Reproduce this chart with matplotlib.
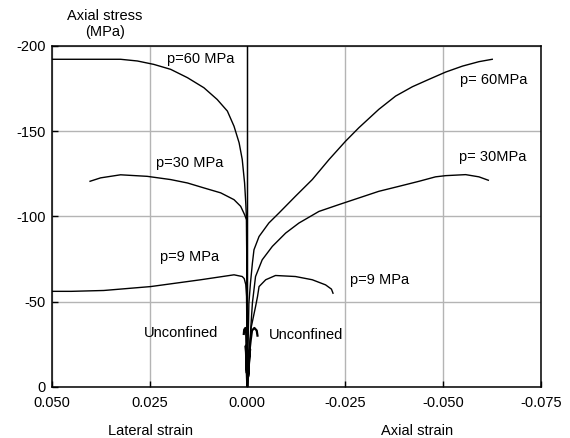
import numpy as np
import matplotlib
matplotlib.use('Agg')
from matplotlib import pyplot as plt

plt.rcParams['font.family'] = ['Liberation Sans', 'DejaVu Sans']

# lateral strain (positive, left half)
lat60_x = [0, 0.0001, 0.0002, 0.0004, 0.0007, 0.0013, 0.0021, 0.0034, 0.0051, 0.0077, 0.0111,
           0.0153, 0.0196, 0.0239, 0.0281, 0.0324, 0.052]
lat60_y = [0, -50, -98, -107.9, -119.6, -133.4, -143.2, -152.9, -161.8, -168.6, -175.5,
           -181.4, -186.3, -189.2, -191.2, -192.2, -192.2]

lat30_x = [0, 0.0001, 0.0002, 0.0007, 0.0017, 0.0034, 0.0068, 0.0111, 0.0153, 0.0196, 0.0256,
           0.0324, 0.0375, 0.0402]
lat30_y = [0, -55, -98, -101, -105.9, -109.8, -113.8, -116.7, -119.6, -121.6, -123.5,
           -124.4, -122.6, -120.6]

lat9_x = [0, 0.0001, 0.0002, 0.0004, 0.0008, 0.0013, 0.0034, 0.0119, 0.0247, 0.0367, 0.045, 0.052]
lat9_y = [0, -30, -53, -60, -63.5, -64.7, -65.7, -62.8, -58.8, -56.5, -56, -56]

# unconfined: loading up, then post-peak hook
lat0_x = [0, 0.0002, 0.0004, 0.0003, 0.0001, 0.0002, 0.0003, 0.0005, 0.0008, 0.0009]
lat0_y = [0, -12, -24, -20, -8, -20, -32, -34.5, -33.5, -31]

# axial strain (negative, right half)
ax60_x = [0, -0.0002, -0.0004, -0.0008, -0.0013, -0.0017, -0.0030, -0.0055, -0.0081, -0.0123,
          -0.0166, -0.0209, -0.0251, -0.0285, -0.0336, -0.0379, -0.0422, -0.0464, -0.0507,
          -0.0550, -0.0592, -0.0626]
ax60_y = [0, -25, -49, -60.8, -72.6, -80.4, -88.2, -96.1, -102, -111.8,
          -121.6, -133.4, -144.1, -152, -162.8, -170.6, -176.1, -180.4, -184.7,
          -188.2, -190.8, -192.2]

ax30_x = [0, -0.0005, -0.0009, -0.0013, -0.0021, -0.0038, -0.0064, -0.0098, -0.0132, -0.0183,
          -0.0234, -0.0285, -0.0336, -0.0387, -0.0439, -0.0481, -0.0507, -0.0558, -0.0592, -0.0616]
ax30_y = [0, -20, -35, -49.2, -64.7, -74.5, -82.4, -90.2, -96.1, -102.9,
          -106.9, -110.8, -114.7, -117.6, -120.6, -123.2, -123.9, -124.5, -123.2, -121.2]

ax9_x = [0, -0.0005, -0.0010, -0.0021, -0.0026, -0.0030, -0.0047, -0.0072, -0.0123, -0.0166,
         -0.0200, -0.0215, -0.0219]
ax9_y = [0, -20, -35, -47, -52.9, -58.8, -62.8, -65.3, -64.7, -62.8,
         -59.8, -57.3, -54.9]

ax0_x = [0, -0.0003, -0.0007, -0.0005, -0.0002, -0.0004, -0.0009, -0.0012, -0.0018, -0.0024, -0.0026]
ax0_y = [0, -10, -22, -18, -6, -18, -28, -33, -34.5, -33, -30]

xticks = [0.050, 0.025, 0.000, -0.025, -0.050, -0.075]
xticklabels = ['0.050', '0.025', '0.000', '-0.025', '-0.050', '-0.075']
yticks = [0, -50, -100, -150, -200]
yticklabels = ['0', '-50', '-100', '-150', '-200']

fig = plt.figure(figsize=(5.7, 4.38), dpi=100)
ax = fig.add_axes([0.0907, 0.117, 0.858, 0.778])

for xs, ys in [(lat60_x, lat60_y), (lat30_x, lat30_y), (lat9_x, lat9_y),
               (ax60_x, ax60_y), (ax30_x, ax30_y), (ax9_x, ax9_y)]:
    ax.plot(xs, ys, color='black', lw=1.0, zorder=3)
for xs, ys in [(lat0_x, lat0_y), (ax0_x, ax0_y)]:
    ax.plot(xs, ys, color='black', lw=1.6, zorder=3)

ax.set_xlim(0.050, -0.075)
ax.set_ylim(0, -200)
ax.set_xticks(xticks)
ax.set_xticklabels(xticklabels)
ax.set_yticks(yticks)
ax.set_yticklabels(yticklabels)
ax.tick_params(direction='in', length=4, width=1, labelsize=10.5)
ax.tick_params(axis='x', pad=7)
ax.tick_params(axis='y', pad=4.5)
ax.grid(True, color='#b4b4b4', lw=1)
ax.axvline(0, color='black', lw=1, zorder=2)
for s in ax.spines.values():
    s.set_linewidth(1.1)

fs = 10.5
ax.text(0.0206, -192.2, 'p=60 MPa', fontsize=fs, va='center', ha='left')
ax.text(0.0234, -131.4, 'p=30 MPa', fontsize=fs, va='center', ha='left')
ax.text(0.0222, -76.1, 'p=9 MPa', fontsize=fs, va='center', ha='left')
ax.text(0.0264, -31.4, 'Unconfined', fontsize=fs, va='center', ha='left')
ax.text(-0.0055, -30.4, 'Unconfined', fontsize=fs, va='center', ha='left')
ax.text(-0.0543, -179.8, 'p= 60MPa', fontsize=fs, va='center', ha='left')
ax.text(-0.0541, -134.7, 'p= 30MPa', fontsize=fs, va='center', ha='left')
ax.text(-0.0262, -62.8, 'p=9 MPa', fontsize=fs, va='center', ha='left')

fig.text(105 / 570, 1 - 24 / 438, 'Axial stress\n(MPa)', fontsize=fs, ha='center', va='center',
         linespacing=1.15)
fig.text(150 / 570, 1 - 430.7 / 438, 'Lateral strain', fontsize=fs, ha='center', va='center')
fig.text(416.7 / 570, 1 - 430.7 / 438, 'Axial strain', fontsize=fs, ha='center', va='center')

fig.savefig('out.png', dpi=100)
